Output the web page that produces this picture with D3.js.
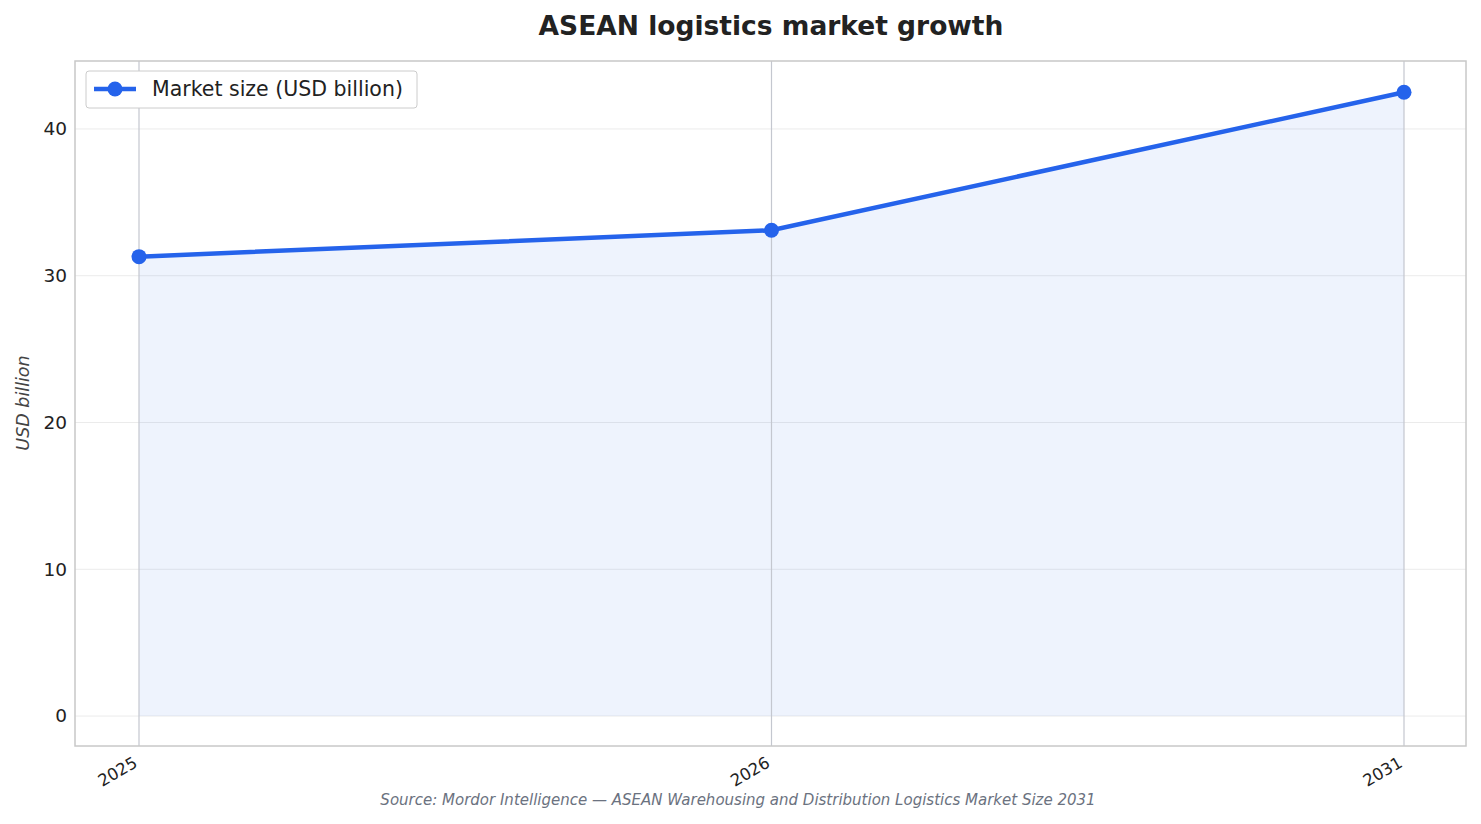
<!DOCTYPE html>
<html><head><meta charset="utf-8">
<script src="https://cdn.jsdelivr.net/npm/d3@7"></script>
<style>body{margin:0;background:#fff}svg{font-family:"DejaVu Sans",sans-serif}</style>
</head><body><svg id="c" width="1481" height="824"></svg>
<script>
const years=["2025","2026","2031"];
const marketSize=[31.3,33.1,42.5];
const yTicks=[0,10,20,30,40];
const L=75,R=1466,T=61,B=746;
const svg=d3.select("#c");
const x=d3.scalePoint().domain(years).range([139,1404]);
const y=d3.scaleLinear().domain([-2.04,44.63]).range([B,T]);
const data=years.map((d,i)=>({year:d,v:marketSize[i]}));
svg.append("g").selectAll("line").data(yTicks).join("line")
 .attr("x1",L).attr("x2",R).attr("y1",d=>y(d)).attr("y2",d=>y(d)).attr("stroke","#ebebeb").attr("stroke-width",1);
svg.append("path").datum(data).attr("fill","#2563eb").attr("fill-opacity",0.08)
 .attr("d",d3.area().x(d=>x(d.year)).y0(y(0)).y1(d=>y(d.v)));
svg.append("g").selectAll("line").data(years).join("line")
 .attr("x1",d=>x(d)).attr("x2",d=>x(d)).attr("y1",T).attr("y2",B).attr("stroke","#c4c7cf").attr("stroke-width",1.2);
svg.append("rect").attr("x",L).attr("y",T).attr("width",R-L).attr("height",B-T).attr("fill","none").attr("stroke","#c8c8c8").attr("stroke-width",1.5);
svg.append("path").datum(data).attr("fill","none").attr("stroke","#2563eb").attr("stroke-width",4.5)
 .attr("d",d3.line().x(d=>x(d.year)).y(d=>y(d.v)));
svg.append("g").selectAll("circle").data(data).join("circle")
 .attr("cx",d=>x(d.year)).attr("cy",d=>y(d.v)).attr("r",7.5).attr("fill","#2563eb");
const ya=svg.append("g").attr("transform",`translate(${L},0)`).call(d3.axisLeft(y).tickValues(yTicks).tickSize(0).tickPadding(8));
ya.select(".domain").remove();
ya.selectAll("text").attr("font-size",18.5).attr("fill","#222").attr("font-family","DejaVu Sans");
const xa=svg.append("g").attr("transform",`translate(0,${B})`).call(d3.axisBottom(x).tickSize(0));
xa.select(".domain").remove();
xa.selectAll("text").attr("font-size",16.5).attr("fill","#222").attr("font-family","DejaVu Sans")
 .attr("text-anchor","end").attr("y",0).attr("dy",0).attr("transform","translate(-1,20) rotate(-30)");
svg.append("text").attr("x",771).attr("y",35).attr("text-anchor","middle").attr("font-size",26.5).attr("font-weight","bold").attr("fill","#222").text("ASEAN logistics market growth");
svg.append("text").attr("transform","translate(29,403) rotate(-90)").attr("text-anchor","middle").attr("font-size",17.5).attr("font-style","italic").attr("fill","#444").text("USD billion");
svg.append("text").attr("x",738).attr("y",805).attr("text-anchor","middle").attr("font-size",15).attr("font-style","italic").attr("fill","#6b7280").text("Source: Mordor Intelligence — ASEAN Warehousing and Distribution Logistics Market Size 2031");
const lg=svg.append("g");
lg.append("rect").attr("x",86).attr("y",71).attr("width",331).attr("height",37).attr("rx",3).attr("fill","#fff").attr("stroke","#ccc");
lg.append("line").attr("x1",94).attr("x2",136).attr("y1",89).attr("y2",89).attr("stroke","#2563eb").attr("stroke-width",4.5);
lg.append("circle").attr("cx",115).attr("cy",89).attr("r",7.5).attr("fill","#2563eb");
lg.append("text").attr("x",152).attr("y",96).attr("font-size",20.5).attr("fill","#222").text("Market size (USD billion)");
</script></body></html>
